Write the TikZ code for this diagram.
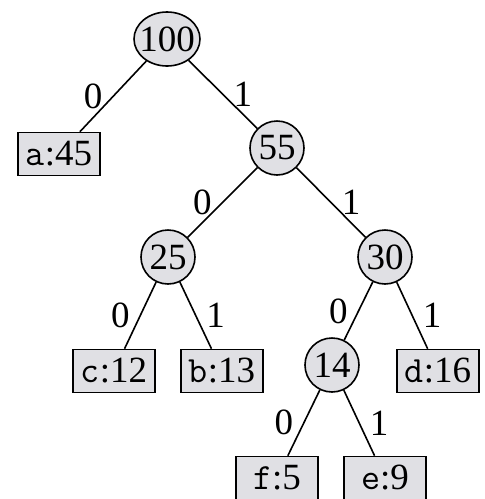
\documentclass[tikz,border=0pt]{standalone}
\usepackage{fontspec}
\usetikzlibrary{shapes.geometric}
\setmainfont{Liberation Serif}
\definecolor{nodegray}{RGB}{224,224,228}
\tikzset{
  inner/.style={circle,draw,fill=nodegray,minimum size=27pt,inner sep=0pt},
  leaf/.style={rectangle,draw,fill=nodegray,minimum width=41pt,minimum height=21.5pt,inner sep=0pt},
  bit/.style={inner sep=2pt}
}
\begin{document}
\begin{tikzpicture}[x=0.5pt,y=-0.5pt,font=\fontsize{18.5}{20}\selectfont,thick]

  \useasboundingbox (0,0) rectangle (485,499);

  % inner nodes
  \node[inner,ellipse,inner xsep=-3.5pt,minimum width=33pt,minimum height=27pt] (n100) at (167,39) {100};
  \node[inner] (n55) at (277,148) {55};
  \node[inner] (n25) at (168,257) {25};
  \node[inner] (n30) at (385,257) {30};
  \node[inner] (n14) at (332,365) {14};

  % leaves
  \node[leaf] (a) at (59,154) {\texttt{a}:45};
  \node[leaf] (c) at (114,371) {\texttt{c}:12};
  \node[leaf] (b) at (222,371) {\texttt{b}:13};
  \node[leaf] (d) at (438,371) {\texttt{d}:16};
  \node[leaf] (f) at (277,478) {\texttt{f}:5};
  \node[leaf] (e) at (385,478) {\texttt{e}:9};

  % edges
  \draw (n100) -- node[bit,left=3pt] {0} (a);
  \draw (n100) -- node[bit,right=3pt] {1} (n55);
  \draw (n55) -- node[bit,left=3pt] {0} (n25);
  \draw (n55) -- node[bit,right=3pt] {1} (n30);
  \draw (n25) -- node[bit,left=3pt] {0} (c);
  \draw (n25) -- node[bit,right=3pt] {1} (b);
  \draw (n30) -- node[bit,left=3pt] {0} (n14);
  \draw (n30) -- node[bit,right=3pt] {1} (d);
  \draw (n14) -- node[bit,left=3pt] {0} (f);
  \draw (n14) -- node[bit,right=3pt] {1} (e);

\end{tikzpicture}
\end{document}
